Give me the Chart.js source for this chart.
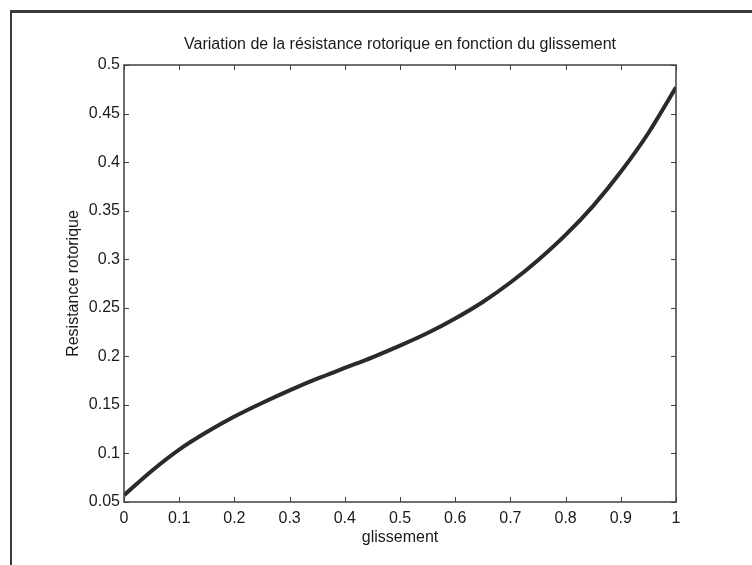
<!DOCTYPE html>
<html lang="fr">
<head>
    <meta charset="UTF-8">
    <title>Résistance rotorique</title>
    <script src="https://cdn.jsdelivr.net/npm/chart.js"></script>
    <style>
        body {
            margin: 0;
            background-color: #ffffff;
        }
        #wrap {
            position: relative;
            width: 752px;
            height: 565px;
        }
        /* figure window edge */
        #frame {
            position: absolute;
            left: 10px;
            top: 10px;
            right: 0;
            bottom: 0;
            border-top: 3px solid #3a3a3a;
            border-left: 2px solid #3a3a3a;
            pointer-events: none;
        }
    </style>
</head>
<body>
    <div id="wrap">
        <canvas id="slipChart" width="752" height="565"></canvas>
        <div id="frame"></div>
    </div>

    <script>
        // glissement (slip) and rotor resistance
        const slip = [0, 0.05, 0.1, 0.15, 0.2, 0.25, 0.3, 0.35, 0.4, 0.45, 0.5,
                      0.55, 0.6, 0.65, 0.7, 0.75, 0.8, 0.85, 0.9, 0.95, 1];
        const resistance = [0.057, 0.082, 0.104, 0.122, 0.138, 0.152, 0.165, 0.177, 0.188, 0.199, 0.211,
                            0.224, 0.239, 0.256, 0.276, 0.299, 0.325, 0.355, 0.390, 0.430, 0.477];

        const xTicks = [0, 0.1, 0.2, 0.3, 0.4, 0.5, 0.6, 0.7, 0.8, 0.9, 1];
        const yTicks = [0.05, 0.1, 0.15, 0.2, 0.25, 0.3, 0.35, 0.4, 0.45, 0.5];

        const axisColor = '#404040';
        const textColor = '#1a1a1a';
        const fontFamily = "'Liberation Sans', Arial, Helvetica, sans-serif";

        // matlab style box round the axes with inward ticks on all four sides
        const boxTicks = {
            id: 'boxTicks',
            afterDatasetsDraw(chart) {
                const { ctx, chartArea: a, scales } = chart;
                const len = 5;
                ctx.save();
                ctx.strokeStyle = axisColor;
                ctx.lineWidth = 1.5;
                ctx.strokeRect(a.left, a.top, a.right - a.left, a.bottom - a.top);
                ctx.lineWidth = 1;
                ctx.beginPath();
                xTicks.forEach(v => {
                    const px = Math.round(scales.x.getPixelForValue(v)) + 0.5;
                    ctx.moveTo(px, a.bottom); ctx.lineTo(px, a.bottom - len);
                    ctx.moveTo(px, a.top); ctx.lineTo(px, a.top + len);
                });
                yTicks.forEach(v => {
                    const py = Math.round(scales.y.getPixelForValue(v)) + 0.5;
                    ctx.moveTo(a.left, py); ctx.lineTo(a.left + len, py);
                    ctx.moveTo(a.right, py); ctx.lineTo(a.right - len, py);
                });
                ctx.stroke();
                ctx.restore();
            }
        };

        Chart.defaults.font.family = fontFamily;
        Chart.defaults.font.size = 16;
        Chart.defaults.color = textColor;

        const ctx = document.getElementById('slipChart').getContext('2d');
        const slipChart = new Chart(ctx, {
            type: 'line',
            data: {
                datasets: [{
                    label: 'Resistance rotorique',
                    data: slip.map((s, i) => ({ x: s, y: resistance[i] })),
                    borderColor: '#2a2a2a',
                    borderWidth: 4,
                    pointRadius: 0,
                    cubicInterpolationMode: 'monotone',
                    fill: false
                }]
            },
            options: {
                responsive: false,
                animation: false,
                layout: { padding: { left: 0, right: 76, top: 0, bottom: 0 } },
                plugins: {
                    legend: { display: false },
                    tooltip: { enabled: false },
                    title: {
                        display: true,
                        text: 'Variation de la résistance rotorique en fonction du glissement',
                        fullSize: false,
                        color: textColor,
                        font: { size: 16, weight: 'normal' },
                        padding: { top: 35, bottom: 10.8 }
                    }
                },
                scales: {
                    x: {
                        type: 'linear',
                        min: 0,
                        max: 1,
                        grid: { display: false, drawTicks: false },
                        border: { display: false },
                        afterBuildTicks: scale => { scale.ticks = xTicks.map(v => ({ value: v })); },
                        afterFit: scale => { scale.height = 63; },
                        ticks: {
                            padding: 7,
                            maxRotation: 0,
                            autoSkip: false,
                            callback: v => String(v)
                        },
                        title: {
                            display: true,
                            text: 'glissement',
                            padding: { top: 0, bottom: 18 }
                        }
                    },
                    y: {
                        min: 0.05,
                        max: 0.5,
                        grid: { display: false, drawTicks: false },
                        border: { display: false },
                        afterBuildTicks: scale => { scale.ticks = yTicks.map(v => ({ value: v })); },
                        afterFit: scale => { scale.width = 124; },
                        ticks: {
                            padding: 4,
                            autoSkip: false,
                            callback: v => String(v)
                        },
                        title: {
                            display: true,
                            text: 'Resistance rotorique',
                            padding: { top: 64, bottom: 0 }
                        }
                    }
                }
            },
            plugins: [boxTicks]
        });
    </script>
</body>
</html>
